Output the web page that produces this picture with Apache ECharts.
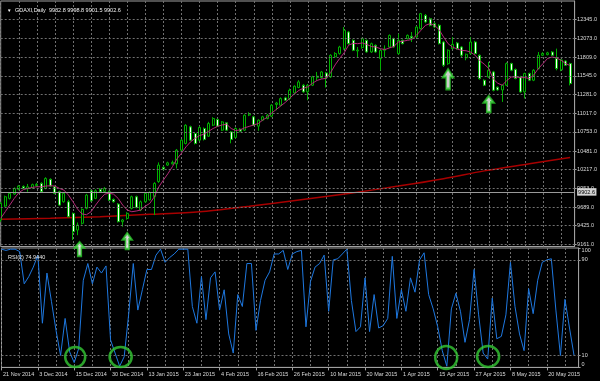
<!DOCTYPE html>
<html><head><meta charset="utf-8">
<script src="https://cdn.jsdelivr.net/npm/echarts@6/dist/echarts.min.js"></script>
<style>html,body{margin:0;padding:0;background:#000;}#c{width:600px;height:381px;}</style>
</head><body><div id="c"></div>
<script>
const header = 'GDAXI,Daily  9932.8 9998.8 9901.5 9902.6';
const rsiLabel = 'RSI(2) 74.9440';
const bidPrice = 9902.6;
const dates = ['21 Nov 2014','24 Nov 2014','25 Nov 2014','26 Nov 2014','27 Nov 2014','28 Nov 2014',
'1 Dec 2014','2 Dec 2014','3 Dec 2014','4 Dec 2014','5 Dec 2014','8 Dec 2014','9 Dec 2014','10 Dec 2014','11 Dec 2014','12 Dec 2014','15 Dec 2014','16 Dec 2014','17 Dec 2014','18 Dec 2014','19 Dec 2014','22 Dec 2014','23 Dec 2014','29 Dec 2014','30 Dec 2014',
'2 Jan 2015','5 Jan 2015','6 Jan 2015','7 Jan 2015','8 Jan 2015','9 Jan 2015','12 Jan 2015','13 Jan 2015','14 Jan 2015','15 Jan 2015','16 Jan 2015','19 Jan 2015','20 Jan 2015','21 Jan 2015','22 Jan 2015','23 Jan 2015','26 Jan 2015','27 Jan 2015','28 Jan 2015','29 Jan 2015','30 Jan 2015',
'2 Feb 2015','3 Feb 2015','4 Feb 2015','5 Feb 2015','6 Feb 2015','9 Feb 2015','10 Feb 2015','11 Feb 2015','12 Feb 2015','13 Feb 2015','16 Feb 2015','17 Feb 2015','18 Feb 2015','19 Feb 2015','20 Feb 2015','23 Feb 2015','24 Feb 2015','25 Feb 2015','26 Feb 2015','27 Feb 2015',
'2 Mar 2015','3 Mar 2015','4 Mar 2015','5 Mar 2015','6 Mar 2015','9 Mar 2015','10 Mar 2015','11 Mar 2015','12 Mar 2015','13 Mar 2015','16 Mar 2015','17 Mar 2015','18 Mar 2015','19 Mar 2015','20 Mar 2015','23 Mar 2015','24 Mar 2015','25 Mar 2015','26 Mar 2015','27 Mar 2015','30 Mar 2015','31 Mar 2015',
'1 Apr 2015','2 Apr 2015','7 Apr 2015','8 Apr 2015','9 Apr 2015','10 Apr 2015','13 Apr 2015','14 Apr 2015','15 Apr 2015','16 Apr 2015','17 Apr 2015','20 Apr 2015','21 Apr 2015','22 Apr 2015','23 Apr 2015','24 Apr 2015','27 Apr 2015','28 Apr 2015','29 Apr 2015','30 Apr 2015',
'4 May 2015','5 May 2015','6 May 2015','7 May 2015','8 May 2015','11 May 2015','12 May 2015','13 May 2015','14 May 2015','15 May 2015','18 May 2015','19 May 2015','20 May 2015','21 May 2015','22 May 2015','26 May 2015','27 May 2015','28 May 2015','29 May 2015','1 Jun 2015'];
// [open, close, low, high]
const candles = [
[9505,9740,9480,9760],[9702,9834,9690,9850],[9811,9882,9795,9900],[9872,9952,9860,9965],[9940,9985,9925,10000],
[9980,9955,9945,9995],[9950,9975,9905,10015],[9960,10005,9950,10020],[9990,10010,9975,10030],[10023,9904,9895,10040],
[9952,10093,9940,10110],[10080,9985,9975,10095],[9975,9882,9870,9990],[9905,9716,9705,9920],[9763,9882,9750,9895],
[9763,9551,9540,9790],[9599,9339,9222,9610],[9363,9434,9290,9470],[9458,9655,9440,9670],[9670,9858,9655,9875],
[9918,9777,9765,9935],[9811,9918,9800,9940],[9938,9905,9895,9955],[9910,9952,9900,9970],[9905,9787,9775,9920],
[9796,9763,9750,9810],[9730,9481,9470,9745],[9481,9505,9410,9520],[9528,9599,9510,9615],[9669,9834,9655,9850],
[9834,9683,9670,9850],[9646,9763,9630,9780],[9763,9881,9750,9895],[9790,9895,9780,9910],[9834,10023,9575,10040],
[10050,10282,10030,10320],[10250,10225,10210,10265],[10282,10314,10270,10330],[10300,10320,10290,10345],[10300,10493,10235,10510],
[10493,10635,10480,10650],[10588,10845,10575,10860],[10823,10635,10620,10840],[10729,10588,10575,10745],[10635,10814,10620,10830],
[10800,10645,10630,10815],[10691,10870,10680,10894],[10847,10941,10835,10960],[10927,10833,10820,10940],[10776,10893,10765,10905],
[10880,10776,10765,10890],[10752,10645,10590,10765],[10673,10800,10660,10815],[10790,10760,10745,10805],[10776,10988,10765,11000],
[10990,11005,10975,11030],[10965,10847,10835,10980],[10833,10917,10767,10930],[10917,10965,10905,10980],[10941,10988,10930,11005],
[10974,11130,10960,11145],[11140,11160,11058,11176],[11129,11223,11115,11240],[11233,11200,11190,11250],[11223,11340,11200,11365],
[11303,11398,11290,11410],[11380,11459,11370,11483],[11412,11318,11305,11430],[11318,11412,11200,11430],[11412,11530,11400,11545],
[11520,11540,11480,11600],[11520,11600,11505,11615],[11586,11520,11380,11600],[11530,11836,11515,11850],[11815,11860,11800,11880],
[11860,11953,11845,11970],[11930,12189,11915,12236],[12165,12000,11985,12180],[12047,11906,11895,12060],[11897,11910,11811,11953],
[11944,12071,11930,12085],[12047,11883,11870,12060],[11883,12000,11870,12015],[11977,11883,11870,11990],[11789,11906,11623,11920],
[11906,11925,11811,11977],[11953,12118,11940,12130],[12071,11953,11940,12085],[11859,12047,11845,12141],[12047,12000,11990,12060],
[12071,12118,12060,12130],[12104,12080,12024,12165],[12095,12236,12080,12250],[12213,12425,12200,12435],[12400,12307,12290,12420],
[12354,12260,12245,12370],[12283,12236,12220,12300],[12260,12000,11990,12275],[12024,11695,11670,12040],[11717,11906,11700,11920],
[11930,11990,11920,12095],[12010,11930,11915,12025],[11953,11836,11811,11965],[11800,11850,11765,11860],[11859,12024,11845,12095],
[12024,11859,11845,12040],[11836,11506,11490,11850],[11482,11412,11400,11495],[11529,11623,11515,11742],[11600,11340,11325,11615],
[11384,11345,11335,11395],[11345,11412,11176,11420],[11412,11718,11400,11735],[11718,11624,11610,11730],[11634,11507,11495,11650],
[11529,11317,11305,11545],[11317,11577,11224,11590],[11577,11483,11470,11590],[11483,11624,11470,11640],[11648,11836,11635,11882],
[11836,11860,11825,11880],[11845,11870,11835,11885],[11882,11836,11825,11895],[11790,11648,11623,11930],[11630,11770,11610,11785],
[11755,11695,11685,11765],[11718,11436,11410,11730]];
const maFast = [9528,9622,9716,9810,9890,9935,9952,9966,9975,9975,
9985,9990,9985,9952,9928,9857,9763,9660,9590,9580,
9622,9716,9800,9870,9885,9870,9810,9716,9646,9622,
9632,9646,9702,9740,9834,9975,10070,10160,10260,10370,
10450,10540,10610,10660,10700,10720,10760,10800,10830,10850,
10860,10800,10770,10780,10810,10830,10850,10870,10920,10960,
11020,11070,11120,11170,11230,11290,11340,11370,11390,11440,
11480,11500,11510,11590,11700,11790,11870,11980,12005,12000,
12010,11990,11960,11953,11930,11916,11940,11960,12024,12035,
12047,12060,12120,12190,12260,12283,12260,12200,12095,12000,
11950,11925,11906,11900,11880,11836,11760,11710,11650,11500,
11440,11412,11480,11529,11529,11520,11520,11506,11560,11650,
11718,11790,11812,11800,11765,11720,11690];
const maSlowIdx = [0,11,22,33,44,55,66,77,88,98,107,117,126];
const maSlowVal = [9514,9530,9551,9585,9622,9700,9787,9880,9985,10090,10200,10300,10390];
const rsi = [99,98,99,99,97,70,76,84,94,37,
79,55,31,10,41,13,4,16,73,87,
70,84,79,85,23,12,1,9,45,87,
48,65,82,82,94,99,88,92,95,99,
99,99,51,37,76,40,75,80,48,65,
28,12,61,51,87,87,31,56,73,80,
95,95,98,82,95,97,98,34,72,84,
87,94,47,90,91,95,99,56,30,34,
75,30,61,33,35,41,93,41,65,47,
75,63,90,96,61,49,34,14,1,49,
62,47,21,40,82,44,12,7,58,24,
26,44,88,51,28,14,66,45,73,88,
90,91,48,10,57,33,10];
const priceTicks = [9161,9425,9689,9953,10217,10481,10753,11017,11281,11545,11809,12073,12345];
const rsiTicks = [0,10,90,100];
const rsiLevels = [10,90];
const arrowIdx = [17,28,99,108];
const arrowTip = [9194,9321,11642,11260];
const circleIdx = [16,26,98,107];
const circleRsi = [8.7,8.7,8.3,9.1];

// ---- styling / layout ----
const FONT = 'Liberation Sans';
const FS = 5.5;
const TXT = '#dcdcdc';
const FRAME = '#a0a0a0';
const GRIDC = '#707070';
const GREEN = '#00b000';
const arrowPath = 'path://M5,0 L10,8 L7,8 L7,20 L3,20 L3,8 L0,8 Z';
const arrowSize = [[9,14],[9,16],[10,20],[10,16]];
const arrowDx = [2,0,0,0];
const circleSize = [[20,20],[22,20],[22,23],[22,21]];
const circleDx = [1,1,-0.6,0.4];
const L = 0.7, W = 577.9;

const lbl = (i) => i % 8 === 0;
const grid4 = (i) => i % 4 === 0;

const chart = echarts.init(document.getElementById('c'), null, {renderer: 'canvas'});
chart.setOption({
  animation: false,
  backgroundColor: '#000',
  textStyle: {fontFamily: FONT},
  title: [
    {left: 2, top: 2.5, text: '{tri|▼}' + header,
     textStyle: {fontSize: FS, color: '#f2f2f2', fontWeight: 'normal', fontFamily: FONT,
       rich: {tri: {fontSize: 4.5, color: '#fff', width: 8}}}},
    {left: 3, top: 249.5, text: rsiLabel,
     textStyle: {fontSize: FS, color: '#e6e6e6', fontWeight: 'normal', fontFamily: FONT}}
  ],
  grid: [
    {left: L, top: 1, width: W, height: 245.5, show: true, borderColor: FRAME, borderWidth: 1, backgroundColor: 'transparent'},
    {left: L, top: 248, width: W, height: 119.4, show: true, borderColor: FRAME, borderWidth: 1, backgroundColor: 'transparent'}
  ],
  xAxis: [
    {gridIndex: 0, type: 'category', data: dates, boundaryGap: false,
     axisLine: {show: false}, axisTick: {show: false}, axisLabel: {show: false},
     splitLine: {show: true, interval: grid4, lineStyle: {color: GRIDC, type: [2, 2], width: 1}}},
    {gridIndex: 1, type: 'category', data: dates, boundaryGap: false,
     axisLine: {show: true, lineStyle: {color: FRAME}},
     axisTick: {show: true, interval: lbl, length: 3, lineStyle: {color: FRAME}},
     axisLabel: {show: true, interval: lbl, align: 'left', margin: 4, padding: [0, 0, 0, 1.5],
       color: TXT, fontSize: FS, fontFamily: FONT},
     splitLine: {show: true, interval: grid4, lineStyle: {color: GRIDC, type: [2, 2], width: 1}}}
  ],
  yAxis: [
    {gridIndex: 0, type: 'value', position: 'right', min: 9130, max: 12604, scale: true,
     axisLine: {show: true, lineStyle: {color: FRAME}},
     axisTick: {show: true, customValues: priceTicks, length: 2, lineStyle: {color: FRAME}},
     axisLabel: {show: true, customValues: priceTicks.concat([bidPrice]), margin: 2.5,
       formatter: v => v === bidPrice ? '{bid|' + bidPrice.toFixed(1) + '}' : Number(v).toFixed(1),
       color: TXT, fontSize: FS, fontFamily: FONT,
       rich: {bid: {backgroundColor: '#d4d4d4', color: '#000', fontSize: FS, fontFamily: FONT, padding: [1, 1.5, 0.5, 1]}}},
     splitLine: {show: false}},
    {gridIndex: 1, type: 'value', position: 'right', min: 0, max: 100,
     axisLine: {show: true, lineStyle: {color: FRAME}},
     axisTick: {show: true, customValues: rsiTicks, length: 2, lineStyle: {color: FRAME}},
     axisLabel: {show: true, customValues: rsiTicks, margin: 3, color: TXT, fontSize: FS, fontFamily: FONT,
       formatter: v => v === 100 ? '{b|100}' : (v === 0 ? '{t|0}' : String(v)),
       rich: {b: {padding: [4, 0, 0, 0], fontSize: FS, color: TXT}, t: {padding: [0, 0, 5, 0], fontSize: FS, color: TXT}}},
     splitLine: {show: false}}
  ],
  series: [
    {type: 'line', name: 'grid', xAxisIndex: 0, yAxisIndex: 0, data: [], z: 1, silent: true,
     markLine: {silent: true, symbol: ['none', 'none'], animation: false,
       label: {show: false}, lineStyle: {color: GRIDC, type: [2, 2], width: 1},
       data: priceTicks.map(v => ({yAxis: v})).concat([
         {yAxis: bidPrice, lineStyle: {color: '#9a9a9a', type: 'solid', width: 1}, label: {show: false}}])}},
    {type: 'line', name: 'rsigrid', xAxisIndex: 1, yAxisIndex: 1, data: [], z: 1, silent: true,
     markLine: {silent: true, symbol: ['none', 'none'], animation: false,
       label: {show: false}, lineStyle: {color: GRIDC, type: [2, 2], width: 1},
       data: rsiLevels.map(v => ({yAxis: v}))}},
    {type: 'line', name: 'MA slow', xAxisIndex: 0, yAxisIndex: 0, z: 2,
     data: maSlowIdx.map((k, i) => [k, maSlowVal[i]]), smooth: 0.3, symbol: 'none',
     lineStyle: {color: '#a80000', width: 1.5}},
    {type: 'candlestick', name: 'GDAXI', xAxisIndex: 0, yAxisIndex: 0, z: 3, data: candles,
     barWidth: 2.5, clip: false,
     itemStyle: {color: '#000', color0: '#fff', borderColor: GREEN, borderColor0: GREEN, borderWidth: 1}},
    {type: 'line', name: 'MA fast', xAxisIndex: 0, yAxisIndex: 0, z: 4, data: maFast, symbol: 'none',
     lineStyle: {color: '#b42a78', width: 1}},
    {type: 'line', name: 'RSI', xAxisIndex: 1, yAxisIndex: 1, z: 3, data: rsi, symbol: 'none',
     lineStyle: {color: '#1e78e0', width: 1}},
    {type: 'scatter', name: 'arrows', xAxisIndex: 0, yAxisIndex: 0, z: 10, clip: false, symbol: arrowPath,
     itemStyle: {color: '#ffffff', borderColor: '#28c828', borderWidth: 2},
     data: arrowIdx.map((k, i) => ({value: [k, arrowTip[i]], symbolSize: arrowSize[i],
       symbolOffset: [arrowDx[i], arrowSize[i][1] / 2]}))},
    {type: 'scatter', name: 'circles', xAxisIndex: 1, yAxisIndex: 1, z: 10, clip: false, symbol: 'circle',
     itemStyle: {color: 'rgba(0,0,0,0)', borderColor: '#34c934', borderWidth: 2.5},
     data: circleIdx.map((k, i) => ({value: [k, circleRsi[i]], symbolSize: circleSize[i],
       symbolOffset: [circleDx[i], 0]}))}
  ]
});
</script></body></html>
